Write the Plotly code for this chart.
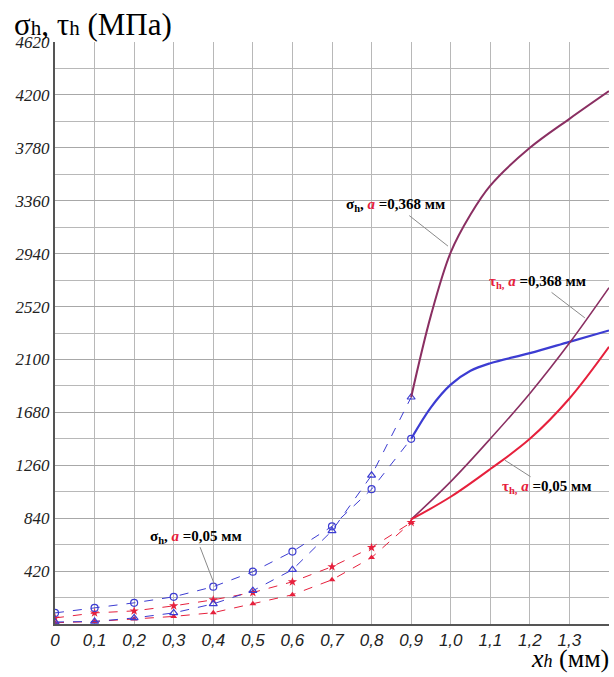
import plotly.graph_objects as go

# ---- data ----
x_pre = [0, 0.1, 0.2, 0.3, 0.4, 0.5, 0.6, 0.7, 0.8, 0.9]
sigma_005_pre = [88, 128, 168, 216, 296, 415, 575, 775, 1070, 1470]
sigma_0368_pre = [16, 20, 48, 88, 160, 264, 431, 740, 1180, 1800]
tau_005_pre = [48, 88, 104, 144, 192, 250, 335, 455, 607, 806]
tau_0368_pre = [10, 20, 40, 60, 90, 160, 232, 351, 527, 806]

x_post_s = [0.9, 0.95, 1.0, 1.05, 1.1, 1.2, 1.3, 1.4]
sigma_0368_post = [1800, 2450, 2950, 3250, 3480, 3780, 4010, 4230]
sigma_005_post = [1470, 1720, 1900, 2010, 2070, 2150, 2240, 2330]

x_post_t = [0.9, 1.0, 1.1, 1.2, 1.3, 1.4]
tau_0368_post = [830, 1130, 1470, 1830, 2230, 2670]
tau_005_post = [830, 1010, 1230, 1470, 1790, 2200]

x_ticks = [0, 0.1, 0.2, 0.3, 0.4, 0.5, 0.6, 0.7, 0.8, 0.9, 1.0, 1.1, 1.2, 1.3, 1.4]
x_tick_text = ["0", "0,1", "0,2", "0,3", "0,4", "0,5", "0,6", "0,7", "0,8", "0,9",
               "1,0", "1,1", "1,2", "1,3", "1,4"]
y_ticks = [420, 840, 1260, 1680, 2100, 2520, 2940, 3360, 3780, 4200, 4620]

BLUE = "#3c3cd2"
RED = "#e6203c"
PURPLE = "#8a2f62"

fig = go.Figure()

# dashed measured parts with markers
fig.add_trace(go.Scatter(x=x_pre, y=tau_0368_pre, mode="lines+markers",
                         line=dict(color=RED, width=1, dash="dash"),
                         marker=dict(symbol="triangle-up", size=6, color=RED)))
fig.add_trace(go.Scatter(x=x_pre, y=tau_005_pre, mode="lines+markers",
                         line=dict(color=RED, width=1, dash="dash"),
                         marker=dict(symbol="star", size=7, color=RED)))
fig.add_trace(go.Scatter(x=x_pre, y=sigma_0368_pre, mode="lines+markers",
                         line=dict(color=BLUE, width=1, dash="dash"),
                         marker=dict(symbol="triangle-up-open", size=7, color=BLUE,
                                     line=dict(width=1.2, color=BLUE))))
fig.add_trace(go.Scatter(x=x_pre, y=sigma_005_pre, mode="lines+markers",
                         line=dict(color=BLUE, width=1, dash="dash"),
                         marker=dict(symbol="circle-open", size=7, color=BLUE,
                                     line=dict(width=1.2, color=BLUE))))

# solid continuation
fig.add_trace(go.Scatter(x=x_post_s, y=sigma_0368_post, mode="lines",
                         line=dict(color=PURPLE, width=2, shape="spline")))
fig.add_trace(go.Scatter(x=x_post_s, y=sigma_005_post, mode="lines",
                         line=dict(color=BLUE, width=2.2, shape="spline")))
fig.add_trace(go.Scatter(x=x_post_t, y=tau_0368_post, mode="lines",
                         line=dict(color=PURPLE, width=1.6, shape="spline")))
fig.add_trace(go.Scatter(x=x_post_t, y=tau_005_post, mode="lines",
                         line=dict(color=RED, width=2, shape="spline")))

ann_font = dict(family="Liberation Serif", size=15, color="black")
annotations = [
    dict(x=0.993, y=3000, ax=-52, ay=-41,
         text="<b>σ<sub>h</sub>, <span style='color:#e6203c'><i>a</i></span> =0,368 мм</b>"),
    dict(x=1.339, y=2430, ax=-47, ay=-36,
         text="<b><span style='color:#e6203c'>τ<sub>h,</sub> <i>a</i></span> =0,368 мм</b>"),
    dict(x=1.137, y=1300, ax=42, ay=27,
         text="<b><span style='color:#e6203c'>τ<sub>h,</sub> <i>a</i></span> =0,05 мм</b>"),
    dict(x=0.402, y=320, ax=-18, ay=-47,
         text="<b>σ<sub>h</sub>, <span style='color:#e6203c'><i>a</i></span> =0,05 мм</b>"),
]
for a in annotations:
    fig.add_annotation(**a, xref="x", yref="y", showarrow=True, arrowhead=0,
                       arrowwidth=1, arrowcolor="#8a8a8a", font=ann_font,
                       bgcolor="rgba(255,255,255,0)")

# axis titles
fig.add_annotation(x=-0.078, y=1.03, xref="paper", yref="paper", xanchor="left",
                   yanchor="middle", showarrow=False,
                   text="σ<span style='font-size:21px'>h</span>, τ<span style='font-size:21px'>h</span> (МПа)",
                   font=dict(family="Liberation Serif", size=31, color="black"))
fig.add_annotation(x=1.003, y=-0.06, xref="paper", yref="paper", xanchor="right",
                   yanchor="middle", showarrow=False,
                   text="<i>x<span style='font-size:18px'>h</span></i> (мм)",
                   font=dict(family="Liberation Serif", size=26, color="black"))

fig.update_layout(
    width=614, height=677,
    margin=dict(l=55, r=5, t=42, b=53, autoexpand=False),
    paper_bgcolor="white", plot_bgcolor="white",
    showlegend=False,
    xaxis=dict(range=[0, 1.4], tickvals=x_ticks, ticktext=x_tick_text,
               showgrid=True, gridcolor="#b8b8b8", gridwidth=1,
               zeroline=False, showline=True, linecolor="#555", linewidth=2,
               tickfont=dict(family="Liberation Sans", size=17, color="#222",
                             style="italic"),
               ticks="", fixedrange=True, automargin=False),
    yaxis=dict(range=[0, 4620], tickvals=y_ticks,
               showgrid=True, gridcolor="#a8a8a8", gridwidth=1,
               minor=dict(dtick=210, tick0=0, showgrid=True, gridcolor="#b8b8b8",
                          gridwidth=1),
               zeroline=False, showline=True, linecolor="#555", linewidth=2,
               tickfont=dict(family="Liberation Serif", size=17, color="#222",
                             style="italic"),
               ticks="", fixedrange=True, automargin=False),
)

fig.write_html("out.html", config={"displayModeBar": False},
               post_script="document.body.style.margin='0px';")
